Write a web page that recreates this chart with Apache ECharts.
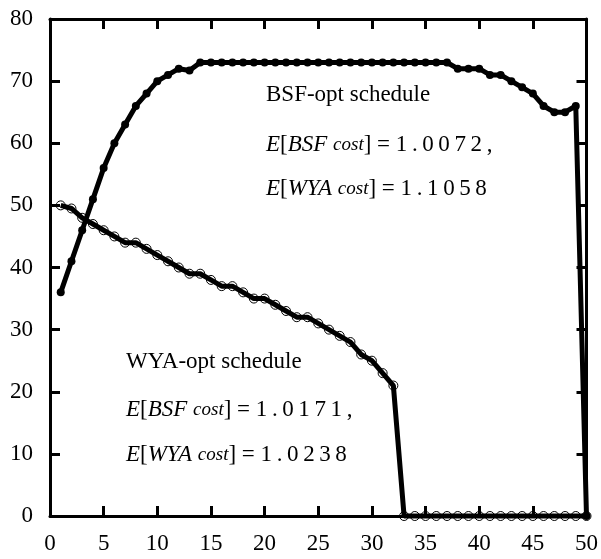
<!DOCTYPE html>
<html>
<head>
<meta charset="utf-8">
<script src="https://cdn.jsdelivr.net/npm/echarts@6/dist/echarts.min.js"></script>
<style>
  html, body { margin: 0; padding: 0; background: #fff; }
  #chartRoot { width: 601px; height: 559px; }
</style>
</head>
<body>
<div id="chartRoot"></div>
<script>
// x positions (1..50)
const xValues = [1, 2, 3, 4, 5, 6, 7, 8, 9, 10, 11, 12, 13, 14, 15, 16, 17, 18, 19, 20,
  21, 22, 23, 24, 25, 26, 27, 28, 29, 30, 31, 32, 33, 34, 35, 36, 37, 38, 39, 40,
  41, 42, 43, 44, 45, 46, 47, 48, 49, 50];

// BSF-opt schedule (filled dots)
const bsfOpt = [36, 41, 46, 51, 56, 60, 63, 66, 68, 70, 71, 72, 71.7, 73, 73, 73, 73, 73, 73, 73,
  73, 73, 73, 73, 73, 73, 73, 73, 73, 73, 73, 73, 73, 73, 73, 73, 73, 72, 72, 72,
  71, 71, 70, 69, 68, 66, 65, 65, 66, 0];

// WYA-opt schedule (open circles)
const wyaOpt = [50, 49.5, 48, 47, 46, 45, 44, 44, 43, 42, 41, 40, 39, 39, 38, 37, 37, 36, 35, 35,
  34, 33, 32, 32, 31, 30, 29, 28, 26, 25, 23, 21, 0, 0, 0, 0, 0, 0, 0, 0,
  0, 0, 0, 0, 0, 0, 0, 0, 0, 0];

// annotation texts
const bsfTitle = "BSF-opt schedule";
const bsfCosts = ["1.0072,", "1.1058"];
const wyaTitle = "WYA-opt schedule";
const wyaCosts = ["1.0171,", "1.0238"];

const font = "Liberation Serif";

let pairs = (ys) => xValues.map((x, i) => [x, ys[i]]);
// widen the numbers a bit, like the math font of the original
let spaced = (s) => s.split("").join("\u2009");

let chart = echarts.init(document.querySelector("#chartRoot"));

const labelStyle = { color: "#000", fontFamily: font, fontSize: 23 };
const lineStyle = { color: "#000", width: 3 };
const tickStyle = { show: true, inside: true, length: 10, lineStyle: { color: "#000", width: 3 } };

let richText = {
  it: { fontFamily: font, fontSize: 23, fontStyle: "italic", fill: "#000" },
  sm: { fontFamily: font, fontSize: 19, fontStyle: "italic", fill: "#000" }
};

let textItem = (left, y, text) => ({
  type: "text",
  left: left,
  top: y - 10,
  style: {
    text: text,
    fill: "#000",
    font: "23px " + font,
    rich: richText
  }
});

let costText = (name, value) => "{it|E}[{it|" + name + "} {sm|cost}] = " + spaced(value);

let option = {
  animation: false,
  backgroundColor: "#fff",
  grid: { left: 50, right: 12, top: 19, bottom: 43 },
  xAxis: [
    {
      type: "value", min: 0, max: 50, interval: 5,
      axisLine: { show: true, onZero: false, lineStyle: lineStyle },
      axisTick: tickStyle,
      axisLabel: Object.assign({ margin: 16 }, labelStyle),
      splitLine: { show: false }
    },
    {
      type: "value", position: "top", min: 0, max: 50, interval: 5,
      axisLine: { show: true, onZero: false, lineStyle: lineStyle },
      axisTick: tickStyle,
      axisLabel: { show: false },
      splitLine: { show: false }
    }
  ],
  yAxis: [
    {
      type: "value", min: 0, max: 80, interval: 10,
      axisLine: { show: true, onZero: false, lineStyle: lineStyle },
      axisTick: tickStyle,
      axisLabel: Object.assign({ margin: 17 }, labelStyle),
      splitLine: { show: false }
    },
    {
      type: "value", position: "right", min: 0, max: 80, interval: 10,
      axisLine: { show: true, onZero: false, lineStyle: lineStyle },
      axisTick: tickStyle,
      axisLabel: { show: false },
      splitLine: { show: false }
    }
  ],
  series: [
    {
      name: "WYA-opt",
      type: "line",
      data: pairs(wyaOpt),
      clip: false,
      symbol: "circle",
      symbolSize: 9,
      showAllSymbol: true,
      lineStyle: { color: "#000", width: 5 },
      itemStyle: { color: "rgba(0,0,0,0)", borderColor: "#000", borderWidth: 1 }
    },
    {
      name: "BSF-opt",
      type: "line",
      data: pairs(bsfOpt),
      clip: false,
      symbol: "circle",
      symbolSize: 8,
      showAllSymbol: true,
      lineStyle: { color: "#000", width: 5 },
      itemStyle: { color: "#000", borderWidth: 0 }
    }
  ],
  graphic: [
    textItem(266, 93, bsfTitle),
    textItem(266, 143, costText("BSF", bsfCosts[0])),
    textItem(266, 187, costText("WYA", bsfCosts[1])),
    textItem(126, 360, wyaTitle),
    textItem(126, 408, costText("BSF", wyaCosts[0])),
    textItem(126, 453, costText("WYA", wyaCosts[1]))
  ]
};

chart.setOption(option, true);
</script>
</body>
</html>
